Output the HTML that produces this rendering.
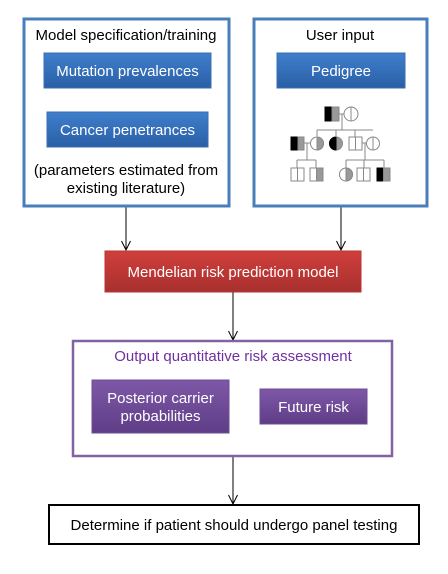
<!DOCTYPE html>
<html><head><style>
body{margin:0;background:#fff;}
svg text{font-family:"Liberation Sans",Arial,sans-serif;}
</style></head><body>
<svg width="448" height="569" viewBox="0 0 448 569" xmlns="http://www.w3.org/2000/svg">
<defs>
<linearGradient id="gb" x1="0" y1="0" x2="0" y2="1"><stop offset="0" stop-color="#3f7fcc"/><stop offset="1" stop-color="#2a5fa6"/></linearGradient>
<linearGradient id="gr" x1="0" y1="0" x2="0" y2="1"><stop offset="0" stop-color="#d03f3c"/><stop offset="1" stop-color="#a8302e"/></linearGradient>
<linearGradient id="gp" x1="0" y1="0" x2="0" y2="1"><stop offset="0" stop-color="#7e58a8"/><stop offset="1" stop-color="#5f3d86"/></linearGradient>
</defs>
<!-- connectors -->
<g stroke="#000" stroke-width="1" fill="none">
<line x1="126" y1="207" x2="126" y2="250"/><path d="M121.5,241 L126,250 L130.5,241"/>
<line x1="341" y1="207" x2="341" y2="250"/><path d="M336.5,241 L341,250 L345.5,241"/>
<line x1="233" y1="292" x2="233" y2="340"/><path d="M228.5,331 L233,340 L237.5,331"/>
<line x1="233" y1="457" x2="233" y2="504"/><path d="M228.5,495 L233,504 L237.5,495"/>
</g>
<!-- left box -->
<rect x="24" y="19" width="205" height="187" fill="#fff" stroke="#4a7ebb" stroke-width="3"/>
<text x="126" y="40" text-anchor="middle" font-size="15" fill="#000">Model specification/training</text>
<rect x="44" y="53" width="167" height="35" fill="url(#gb)" stroke="#3a6fb0" stroke-width="1"/>
<text x="127.5" y="76" text-anchor="middle" font-size="15" fill="#fff">Mutation prevalences</text>
<rect x="47" y="112" width="161" height="35" fill="url(#gb)" stroke="#3a6fb0" stroke-width="1"/>
<text x="127.5" y="135" text-anchor="middle" font-size="15" fill="#fff">Cancer penetrances</text>
<text x="126" y="175" text-anchor="middle" font-size="15" fill="#000">(parameters estimated from</text>
<text x="126" y="193" text-anchor="middle" font-size="15" fill="#000">existing literature)</text>
<!-- right box -->
<rect x="254" y="19" width="173" height="187" fill="#fff" stroke="#4a7ebb" stroke-width="3"/>
<text x="340" y="40" text-anchor="middle" font-size="15" fill="#000">User input</text>
<rect x="277" y="53" width="128" height="35" fill="url(#gb)" stroke="#3a6fb0" stroke-width="1"/>
<text x="341" y="76" text-anchor="middle" font-size="15" fill="#fff">Pedigree</text>
<!-- pedigree -->
<g stroke="#888" stroke-width="1" fill="#fff">
<line x1="339" y1="114" x2="344" y2="114"/>
<line x1="342" y1="114" x2="342" y2="130"/>
<line x1="317" y1="130" x2="373" y2="130"/>
<line x1="317" y1="130" x2="317" y2="136"/>
<line x1="336" y1="130" x2="336" y2="136"/>
<line x1="355" y1="130" x2="355" y2="137"/>
<line x1="304" y1="143" x2="310" y2="143"/>
<line x1="362" y1="143" x2="366" y2="143"/>
<line x1="307" y1="143" x2="307" y2="160"/>
<line x1="297" y1="160" x2="316" y2="160"/>
<line x1="297" y1="160" x2="297" y2="168"/>
<line x1="316" y1="160" x2="316" y2="168"/>
<line x1="365" y1="143" x2="365" y2="160"/>
<line x1="346" y1="160" x2="384" y2="160"/>
<line x1="346" y1="160" x2="346" y2="168"/>
<line x1="364" y1="160" x2="364" y2="168"/>
<line x1="384" y1="160" x2="384" y2="168"/>
<rect x="325" y="107" width="7" height="14" fill="#000" stroke="#000"/>
<rect x="332" y="107" width="7" height="14" fill="#999"/>
<circle cx="351" cy="114" r="7"/><line x1="351" y1="107" x2="351" y2="121"/>
<rect x="291" y="137" width="7" height="13" fill="#000" stroke="#000"/>
<rect x="298" y="137" width="6" height="13" fill="#999"/>
<circle cx="317" cy="143.5" r="6.5"/><path d="M317,137 A6.5,6.5 0 0 1 317,150 Z" fill="#999"/>
<circle cx="336" cy="143.5" r="6.5" fill="#999"/><path d="M336,137 A6.5,6.5 0 0 0 336,150 Z" fill="#000" stroke="#000"/>
<rect x="349" y="137" width="13" height="13"/><line x1="355.5" y1="137" x2="355.5" y2="150"/>
<circle cx="373" cy="143.5" r="6.5"/><line x1="373" y1="137" x2="373" y2="150"/>
<rect x="291" y="168" width="13" height="13"/><line x1="297.5" y1="168" x2="297.5" y2="181"/>
<rect x="310" y="168" width="13" height="13"/><rect x="316.5" y="168" width="6.5" height="13" fill="#999"/>
<circle cx="346" cy="174.5" r="6.5"/><path d="M346,168 A6.5,6.5 0 0 1 346,181 Z" fill="#999"/>
<rect x="357" y="168" width="13" height="13"/><line x1="363.5" y1="168" x2="363.5" y2="181"/>
<rect x="377" y="168" width="6.5" height="13" fill="#000" stroke="#000"/>
<rect x="383.5" y="168" width="6.5" height="13" fill="#999"/>
</g>
<!-- red -->
<rect x="105" y="251" width="256" height="41" fill="url(#gr)" stroke="#b33" stroke-width="1"/>
<text x="233" y="277" text-anchor="middle" font-size="15" fill="#fff">Mendelian risk prediction model</text>
<!-- purple -->
<rect x="73" y="341" width="319" height="115" fill="#fff" stroke="#8064a2" stroke-width="2.5"/>
<text x="233" y="361" text-anchor="middle" font-size="15" fill="#7030a0">Output quantitative risk assessment</text>
<rect x="92" y="380" width="137" height="53" fill="url(#gp)" stroke="#6d4c95" stroke-width="1"/>
<text x="160.5" y="403" text-anchor="middle" font-size="15" fill="#fff">Posterior carrier</text>
<text x="160.5" y="421" text-anchor="middle" font-size="15" fill="#fff">probabilities</text>
<rect x="260" y="389" width="107" height="35" fill="url(#gp)" stroke="#6d4c95" stroke-width="1"/>
<text x="313.5" y="412" text-anchor="middle" font-size="15" fill="#fff">Future risk</text>
<!-- bottom -->
<rect x="49" y="505" width="370" height="39" fill="#fff" stroke="#000" stroke-width="2"/>
<text x="234" y="530" text-anchor="middle" font-size="15" fill="#000">Determine if patient should undergo panel testing</text>
</svg>
</body></html>
